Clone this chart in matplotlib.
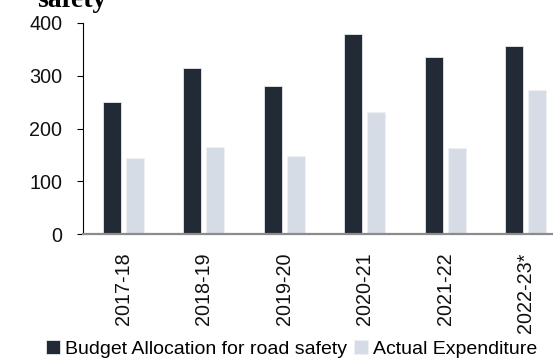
import numpy as np
import matplotlib
matplotlib.use('Agg')
import matplotlib.pyplot as plt

years = ['2017-18', '2018-19', '2019-20', '2020-21', '2021-22', '2022-23*']
budget = [250, 315, 280, 379, 336, 356]
actual = [144, 165, 148, 231, 163, 273]

plt.rcParams['font.family'] = ['Liberation Sans', 'DejaVu Sans']

fig = plt.figure(figsize=(5.53, 3.58), dpi=100)
ax = fig.add_axes([83 / 553, 1 - 234.3 / 358, 470 / 553, 211.6 / 358])

x = np.arange(len(years))
w = 0.22
ax.bar(x - 0.143, budget, w, color='#222a35', edgecolor='#e6e8ec', linewidth=0.6,
       label='Budget Allocation for road safety')
ax.bar(x + 0.143, actual, w, color='#d6dce5', edgecolor='#eef0f3', linewidth=0.6,
       label='Actual Expenditure')

ax.set_xlim(-0.5, 5.34)
ax.set_ylim(0, 400)
ax.set_yticks([0, 100, 200, 300, 400])
ax.set_xticks(x)
ax.set_xticklabels(years, rotation=90)

for s in ['top', 'right']:
    ax.spines[s].set_visible(False)
ax.spines['left'].set_color('black')
ax.spines['left'].set_linewidth(0.8)
ax.spines['bottom'].set_color('#8c8c8c')
ax.spines['bottom'].set_linewidth(1.6)
ax.tick_params(axis='y', length=4.5, width=0.8, pad=10.5, labelsize=14.2, labelcolor='#111111')
ax.tick_params(axis='x', length=0, pad=13, labelsize=14.2, labelcolor='#111111')

# legend sits along the bottom edge, no frame
fig.legend(loc='lower left', bbox_to_anchor=(46 / 553, 0.0), ncol=2, frameon=False,
           fontsize=14, handlelength=0.72, handleheight=0.72, handletextpad=0.25,
           columnspacing=0.35, borderaxespad=0, borderpad=0)

fig.text(37 / 553, 1 - 7 / 358, 'safety', family='Liberation Serif', weight='bold',
         fontsize=20, ha='left', va='baseline')

fig.savefig('out.png', dpi=100)
